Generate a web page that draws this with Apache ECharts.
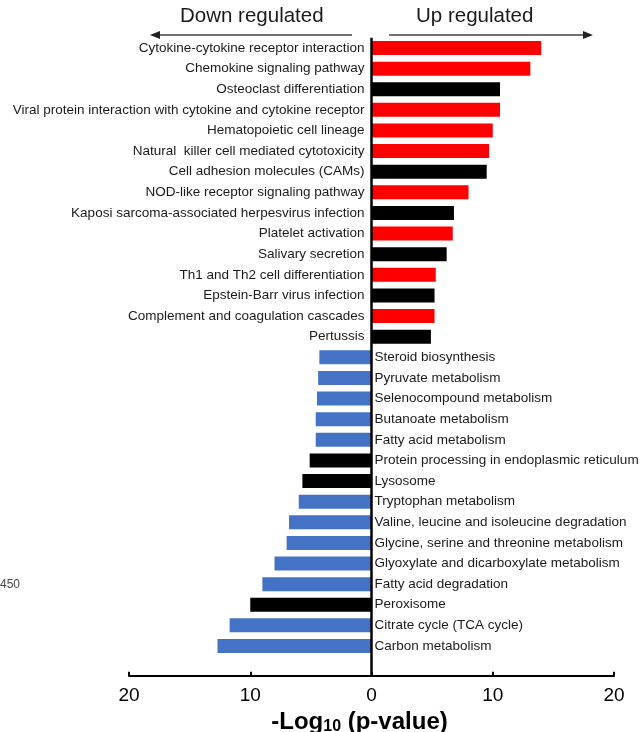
<!DOCTYPE html>
<html>
<head>
<meta charset="utf-8">
<script src="https://cdn.jsdelivr.net/npm/echarts@6/dist/echarts.min.js"></script>
<style>
  html, body { margin: 0; padding: 0; background: #fff; }
  #chart { width: 642px; height: 732px; }
</style>
</head>
<body>
<div id="chart"></div>
<script>
// KEGG pathways, top to bottom
const categories = [
  'Cytokine-cytokine receptor interaction',
  'Chemokine signaling pathway',
  'Osteoclast differentiation',
  'Viral protein interaction with cytokine and cytokine receptor',
  'Hematopoietic cell lineage',
  'Natural  killer cell mediated cytotoxicity',
  'Cell adhesion molecules (CAMs)',
  'NOD-like receptor signaling pathway',
  'Kaposi sarcoma-associated herpesvirus infection',
  'Platelet activation',
  'Salivary secretion',
  'Th1 and Th2 cell differentiation',
  'Epstein-Barr virus infection',
  'Complement and coagulation cascades',
  'Pertussis',
  'Steroid biosynthesis',
  'Pyruvate metabolism',
  'Selenocompound metabolism',
  'Butanoate metabolism',
  'Fatty acid metabolism',
  'Protein processing in endoplasmic reticulum',
  'Lysosome',
  'Tryptophan metabolism',
  'Valine, leucine and isoleucine degradation',
  'Glycine, serine and threonine metabolism',
  'Glyoxylate and dicarboxylate metabolism',
  'Fatty acid degradation',
  'Peroxisome',
  'Citrate cycle (TCA cycle)',
  'Carbon metabolism'
];

// -log10(p-value); negative = down regulated
const values = [
  14.0, 13.1, 10.6, 10.6, 10.0, 9.7, 9.5, 8.0, 6.8, 6.7, 6.2, 5.3, 5.2, 5.2, 4.9,
  -4.3, -4.4, -4.5, -4.6, -4.6, -5.1, -5.7, -6.0, -6.8, -7.0, -8.0, -9.0, -10.0, -11.7, -12.7
];

// bar group per pathway
const barGroup = [
  'up', 'up', 'mixed', 'up', 'up', 'up', 'mixed', 'up', 'mixed', 'up', 'mixed', 'up', 'mixed', 'up', 'mixed',
  'down', 'down', 'down', 'down', 'down', 'mixed', 'mixed', 'down', 'down', 'down', 'down', 'down', 'mixed', 'down', 'down'
];

const xTicks = [-20, -10, 0, 10, 20];

const groupColor = { up: '#FF0000', mixed: '#000000', down: '#4472C4' };
const FONT = '"Liberation Sans", Arial, Helvetica, sans-serif';

const gridTop = 37.7, gridBottom = 75.7, axisOffset = 19.4;

const chart = echarts.init(document.getElementById('chart'), null, { renderer: 'canvas' });

const seriesData = values.map((v, i) => ({
  value: v,
  itemStyle: { color: groupColor[barGroup[i]] },
  label: v >= 0
    ? { position: 'left', distance: 7 }
    : { position: 'right', distance: 3 }
}));

chart.setOption({
  animation: false,
  backgroundColor: '#fff',
  grid: {
    left: 129, right: 28, top: gridTop, bottom: gridBottom,
    containLabel: false, outerBoundsMode: 'none'
  },
  xAxis: {
    type: 'value',
    min: xTicks[0], max: xTicks[xTicks.length - 1], interval: 10,
    position: 'bottom',
    offset: axisOffset,
    axisLine: { show: true, onZero: false, lineStyle: { color: '#000', width: 2 } },
    axisTick: { show: true, inside: true, length: 4, lineStyle: { color: '#000', width: 2 } },
    splitLine: { show: false },
    axisLabel: {
      margin: 11, color: '#000', fontSize: 19, fontFamily: FONT,
      formatter: v => String(Math.abs(v))
    },
    name: '-Log{s|10} (p-value)',
    nameLocation: 'middle',
    nameGap: 32,
    nameTextStyle: {
      color: '#000', fontSize: 24, fontWeight: 'bold', fontFamily: FONT,
      padding: [0, 24, 0, 0],
      rich: {
        s: { fontSize: 16, fontWeight: 'bold', fontFamily: FONT, color: '#000', padding: [8, 0, 0, 0] }
      }
    }
  },
  yAxis: {
    type: 'category',
    inverse: true,
    data: categories,
    axisLine: { show: false },
    axisTick: { show: false },
    axisLabel: { show: false },
    splitLine: { show: false }
  },
  series: [{
    type: 'bar',
    data: seriesData,
    barWidth: 14,
    label: {
      show: true,
      formatter: '{b}',
      color: '#1a1a1a',
      fontSize: 13.5,
      fontFamily: FONT
    }
  }]
});

// zero line spanning the plot down to the x axis
const x0 = chart.convertToPixel({ xAxisIndex: 0 }, 0);
const H = chart.getHeight();
const axisY = H - gridBottom + axisOffset;

chart.setOption({
  graphic: [
    {
      type: 'line', z: 10,
      shape: { x1: x0, y1: gridTop, x2: x0, y2: axisY },
      style: { stroke: '#000', lineWidth: 2.5 }
    },
    // direction header
    {
      type: 'text', left: 180, top: 6,
      style: { text: 'Down regulated', fill: '#1a1a1a', font: '20.5px ' + FONT }
    },
    {
      type: 'text', left: 416, top: 6,
      style: { text: 'Up regulated', fill: '#1a1a1a', font: '20.5px ' + FONT }
    },
    {
      type: 'line',
      shape: { x1: 158, y1: 35, x2: 352, y2: 35 },
      style: { stroke: '#444', lineWidth: 1.3 }
    },
    {
      type: 'polygon',
      shape: { points: [[150, 35], [160, 31], [160, 39]] },
      style: { fill: '#222' }
    },
    {
      type: 'line',
      shape: { x1: 389, y1: 35, x2: 585, y2: 35 },
      style: { stroke: '#444', lineWidth: 1.3 }
    },
    {
      type: 'polygon',
      shape: { points: [[593, 35], [583, 31], [583, 39]] },
      style: { fill: '#222' }
    },
    {
      type: 'text', left: 0, top: 579,
      style: { text: '450', fill: '#444', font: '12px ' + FONT }
    }
  ]
});
</script>
</body>
</html>
